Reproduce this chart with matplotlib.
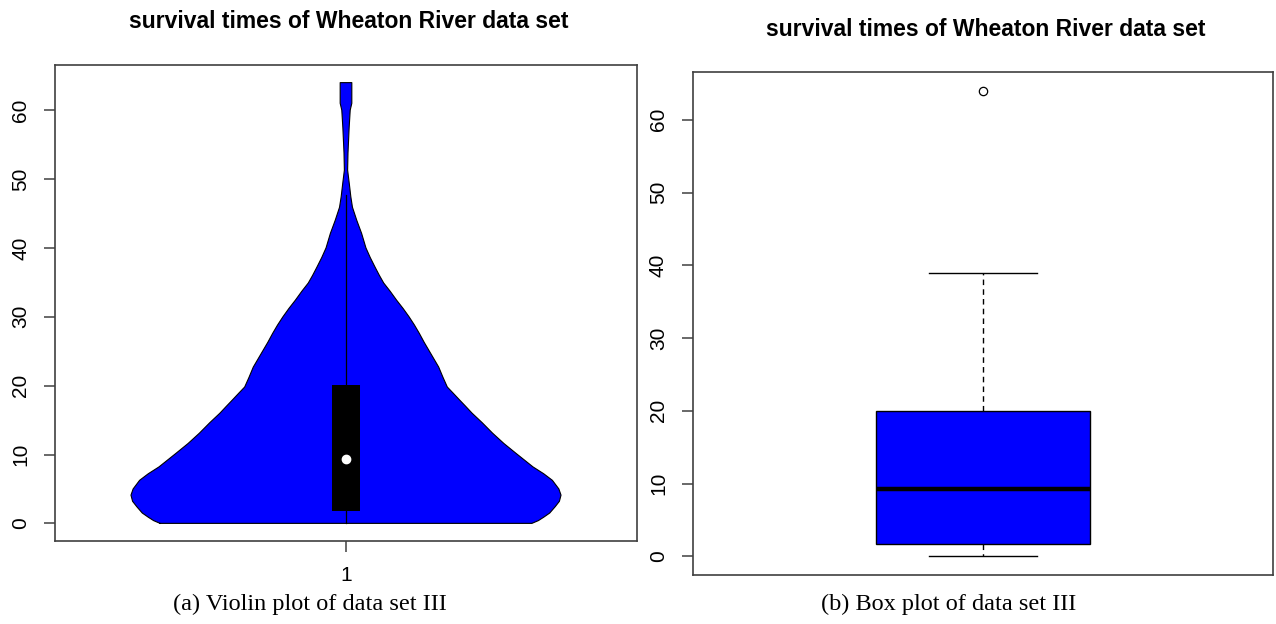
import numpy as np
import matplotlib
matplotlib.use('Agg')
import matplotlib.pyplot as plt

# violin outline: height -> half width (x units)
violinY = [0, 0.4, 0.9, 1.5, 2.4, 3.2, 4.1, 5.0, 6.25, 7.2, 8.2, 9.2, 10.2, 11.6,
           13.1, 14.6, 16.0, 17.0, 17.9, 18.9, 19.8, 21.2, 22.7, 23.9, 25.1, 26.3,
           27.6, 28.8, 30.0, 31.2, 32.4, 33.7, 34.9, 36.0, 37.2, 38.6, 40.0, 42.1,
           44.0, 45.9, 47.4, 49.4, 51.3, 53.8, 57.4, 60.0, 61.0, 64.0]
violinHalfWidth = [0.345, 0.357, 0.367, 0.378, 0.388, 0.396, 0.399, 0.395, 0.383,
                   0.367, 0.347, 0.331, 0.315, 0.293, 0.272, 0.253, 0.234, 0.222,
                   0.211, 0.199, 0.188, 0.180, 0.172, 0.163, 0.154, 0.145, 0.136,
                   0.127, 0.117, 0.106, 0.094, 0.082, 0.070, 0.062, 0.054, 0.045,
                   0.037, 0.029, 0.020, 0.012, 0.009, 0.006, 0.003, 0.0037, 0.0058,
                   0.0078, 0.0108, 0.0108]
violinQ1 = 1.74
violinMedian = 9.4
violinQ3 = 20.06
violinLineLow = 0
violinLineHigh = 47.7

# box plot of panel (b)
boxQ1 = 1.75
boxMedian = 9.3
boxQ3 = 20.0
whiskerLow = 0
whiskerHigh = 39
outliers = [64]

yTicks = [0, 10, 20, 30, 40, 50, 60]
titleText = 'survival times of Wheaton River data set'
captionA = '(a) Violin plot of data set III'
captionB = '(b) Box plot of data set III'

plt.rcParams['font.family'] = ['Liberation Sans', 'DejaVu Sans']
spineColor = '#404040'

fig = plt.figure(figsize=(12.76, 6.24), dpi=100)
ax1 = fig.add_axes([55/1276, 1-541/624, 582/1276, 476/624])
ax2 = fig.add_axes([693/1276, 1-575/624, 580/1276, 503/624])

# ---- violin
vy = np.array(violinY)
vw = np.array(violinHalfWidth)
ax1.fill_betweenx(vy, 1 - vw, 1 + vw, facecolor='#0000FF', edgecolor='none', zorder=1)
xs = np.concatenate([1 - vw, (1 + vw)[::-1], [(1 - vw)[0]]])
ys = np.concatenate([vy, vy[::-1], [vy[0]]])
ax1.plot(xs, ys, color='black', linewidth=0.8, zorder=2)
ax1.plot([1, 1], [violinLineLow, violinLineHigh], color='black', linewidth=0.9, zorder=3)
ax1.bar([1], [violinQ3 - violinQ1], bottom=violinQ1, width=0.052, color='black', zorder=4)
ax1.plot([1], [violinMedian], 'o', color='white', markersize=6, zorder=5)
ax1.set_xlim(0.46, 1.54)
ax1.set_ylim(-2.56, 66.56)
ax1.set_xticks([1])
ax1.set_xticklabels(['1'])

# ---- box plot
stats = [dict(med=boxMedian, q1=boxQ1, q3=boxQ3, whislo=whiskerLow,
              whishi=whiskerHigh, fliers=outliers)]
ax2.bxp(stats, positions=[1], widths=0.4, capwidths=0.2, patch_artist=True,
        boxprops=dict(facecolor='#0000FF', edgecolor='black', linewidth=1),
        medianprops=dict(color='black', linewidth=3.2, solid_capstyle='butt'),
        whiskerprops=dict(color='black', linewidth=1, linestyle=(0, (4, 3))),
        capprops=dict(color='black', linewidth=1),
        flierprops=dict(marker='o', markerfacecolor='none', markeredgecolor='black',
                        markersize=6, markeredgewidth=0.9))
ax2.set_xlim(0.46, 1.54)
ax2.set_ylim(-2.56, 66.56)
ax2.set_xticks([])

for ax in (ax1, ax2):
    ax.set_yticks(yTicks)
    ax.set_yticklabels([str(t) for t in yTicks], rotation=90, va='center')
    ax.tick_params(axis='both', length=8, width=1.1, color=spineColor, pad=10,
                   labelsize=15)
    for s in ax.spines.values():
        s.set_color(spineColor)
        s.set_linewidth(1.2)

fig.text(349/1276, 1-22/624, titleText, ha='center', va='center', fontsize=16.5,
         fontweight='bold')
fig.text(986/1276, 1-30/624, titleText, ha='center', va='center', fontsize=16.5,
         fontweight='bold')
fig.text(310/1276, 1-604/624, captionA, ha='center', va='center', fontsize=17.5,
         family=['Liberation Serif', 'DejaVu Serif'])
fig.text(949/1276, 1-604/624, captionB, ha='center', va='center', fontsize=17.5,
         family=['Liberation Serif', 'DejaVu Serif'])

fig.savefig('out.png', dpi=100)
